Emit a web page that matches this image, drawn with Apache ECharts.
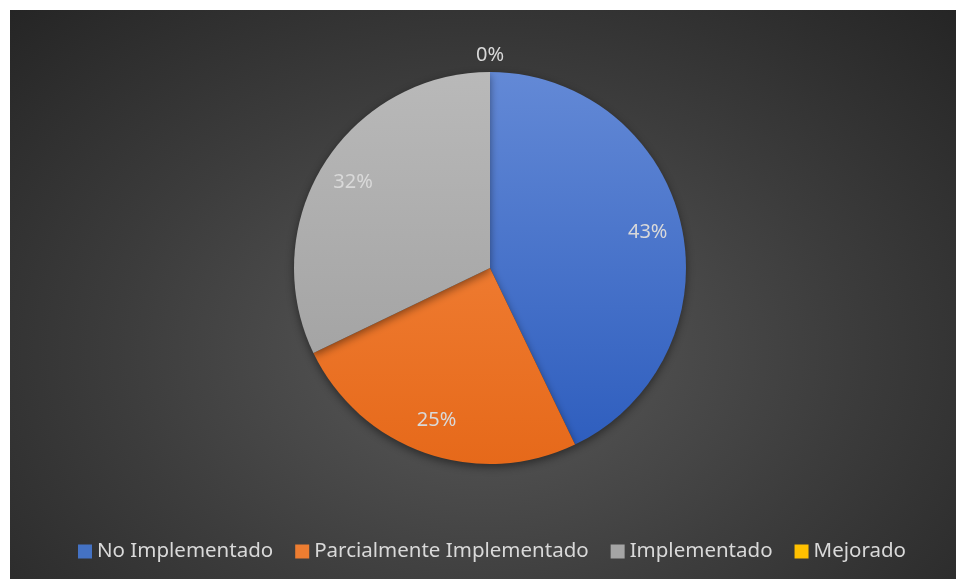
<!DOCTYPE html>
<html>
<head>
<meta charset="utf-8">
<script src="https://cdn.jsdelivr.net/npm/echarts@6/dist/echarts.min.js"></script>
<style>
html,body{margin:0;padding:0;background:#ffffff;width:956px;height:579px;overflow:hidden;}
#chart{position:absolute;left:10px;top:10px;width:946px;height:569px;
background:radial-gradient(ellipse farthest-corner at 50% 60%, #5a5a5a 0%, #3c3c3c 55%, #252525 100%);}
</style>
</head>
<body>
<div id="chart"></div>
<script>
const categories = ['No Implementado', 'Parcialmente Implementado', 'Implementado', 'Mejorado'];
const values = [12, 7, 9, 0];
const baseColors = ['#4472C4', '#ED7D31', '#A5A5A5', '#FFC000'];
const topColors = ['#6389d6', '#f68b45', '#b9b9b9', '#ffcc33'];
const bottomColors = ['#2c5cbd', '#e6691a', '#9c9c9c', '#f0b400'];

const cx = 480, cy = 258, R = 196;
const total = values.reduce((a, b) => a + b, 0);

function grad(i) {
  return new echarts.graphic.LinearGradient(0, cy - R, 0, cy + R, [
    {offset: 0, color: topColors[i]},
    {offset: 1, color: bottomColors[i]}
  ], true);
}

const chart = echarts.init(document.getElementById('chart'));
const font = '"Noto Sans", "Open Sans", sans-serif';

chart.setOption({
  backgroundColor: 'transparent',
  animation: false,
  legend: {
    data: categories.map((n, i) => ({name: n, itemStyle: {color: baseColors[i]}})),
    left: 63,
    top: 526,
    icon: 'rect',
    itemWidth: 14,
    itemHeight: 14,
    itemGap: 22,
    textStyle: {color: '#d9d9d9', fontSize: 20.5, fontFamily: font}
  },
  series: [
    {
      type: 'pie',
      center: [cx, cy],
      radius: [0, R],
      startAngle: 90,
      clockwise: true,
      label: {show: false},
      labelLine: {show: false},
      itemStyle: {
        borderWidth: 0,
        shadowBlur: 8,
        shadowOffsetY: 3,
        shadowColor: 'rgba(0,0,0,0.45)'
      },
      emphasis: {disabled: true},
      data: categories.map((n, i) => ({name: n, value: values[i], itemStyle: {color: grad(i)}}))
    },
    {
      type: 'pie',
      center: [cx, cy],
      radius: [R * 0.62, R],
      startAngle: 90,
      clockwise: true,
      silent: true,
      itemStyle: {color: 'rgba(0,0,0,0)'},
      label: {
        show: true,
        position: 'inside',
        color: '#d9d9d9',
        fontSize: 20,
        fontFamily: font,
        formatter: p => Math.round(p.value / total * 100) + '%'
      },
      labelLine: {show: false},
      emphasis: {disabled: true},
      data: categories.map((n, i) => {
        const d = {name: n, value: values[i]};
        if (values[i] === 0) d.label = {offset: [0, -51]};
        return d;
      })
    }
  ]
});
</script>
</body>
</html>
